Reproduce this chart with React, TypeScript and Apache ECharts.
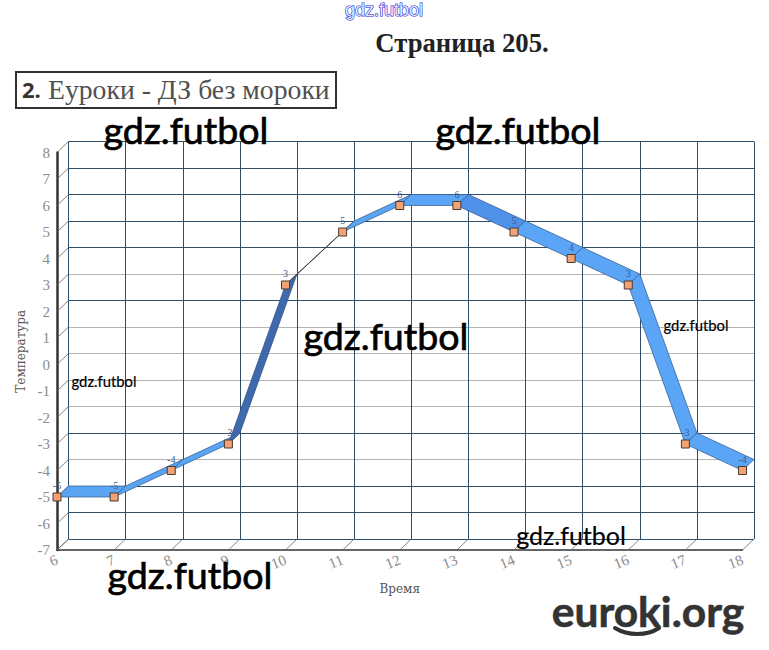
import React, { useEffect, useRef } from "react";
import * as echarts from "echarts";

const hours = [6, 7, 8, 9, 10, 11, 12, 13, 14, 15, 16, 17, 18];
const temperature = [-5, -5, -4, -3, 3, 5, 6, 6, 5, 4, 3, -3, -4];
const yTicks = [-7, -6, -5, -4, -3, -2, -1, 0, 1, 2, 3, 4, 5, 6, 7, 8];
const dark = "#2f4f68";
const gray = "#b4b4b4";
const wallLineColors = [dark, dark, dark, gray, dark, gray, gray, gray, gray, dark, gray, dark, dark, dark, dark, dark];
const ribbonColors = ["#5aa5f2", "#5aa5f2", "#5aa5f2", "#4069ad", "#444", "#5aa5f2", "#5aa5f5", "#4f90e8", "#5aa5f5", "#5aa5f5", "#5aa5f5", "#5aa5f5"];
const ribbonEdges = ["#3a6298", "#3a6298", "#3a6298", "#34558c", "#3c3c3c", "#3a6298", "#3a6298", "#3a6298", "#3a6298", "#3a6298", "#3a6298", "#3a6298"];
const DEPTH_X = 11.5;
const DEPTH_Y = -11;
const bigMarks = [
  [186, 129],
  [518, 129],
  [386, 335],
  [190, 574],
];
const smallMarks = [
  [104, 381, 14.8],
  [696, 325, 14.8],
  [571, 535, 25],
];

const serif = "'Liberation Serif', serif";

function mark(x: number, y: number, size: number) {
  return {
    type: "text",
    z: 100,
    x,
    y,
    style: {
      text: "gdz.futbol",
      x: 0,
      y: 0,
      fill: "#000",
      stroke: "#000",
      lineWidth: size > 30 ? 0.7 : 0.2,
      fontFamily: "Lato",
      fontSize: size,
      textAlign: "center",
      textVerticalAlign: "middle",
    },
  };
}

export default function App() {
  const ref = useRef<HTMLDivElement>(null);
  useEffect(() => {
    const chart = echarts.init(ref.current!, null, { renderer: "svg" });
    const axisLabelColor = "#8c8c8c";
    chart.setOption({
      animation: false,
      backgroundColor: "#fff",
      grid: [
        { left: 57, right: 26.5, top: 152.5, height: 397.5 },
        { left: 68.5, right: 15, top: 141.5, height: 397.5 },
      ],
      xAxis: [
        {
          type: "value",
          gridIndex: 0,
          min: 6,
          max: 18,
          interval: 1,
          name: "Время",
          nameLocation: "middle",
          nameGap: 33,
          nameTextStyle: { fontFamily: "'DejaVu Serif'", fontSize: 12, color: "#555" },
          axisLine: { show: true, onZero: false, lineStyle: { color: "#333", width: 1.5 } },
          axisTick: { show: false },
          splitLine: { show: false },
          axisLabel: { color: axisLabelColor, fontFamily: serif, fontSize: 15, rotate: 22, margin: 9 },
        },
        {
          type: "value",
          gridIndex: 1,
          min: 6,
          max: 18,
          interval: 1,
          axisLine: { show: false },
          axisTick: { show: false },
          axisLabel: { show: false },
          splitLine: { show: true, lineStyle: { color: "#2f4f68", width: 1 } },
        },
      ],
      yAxis: [
        {
          type: "value",
          gridIndex: 0,
          min: -7,
          max: 8,
          interval: 1,
          name: "Температура",
          nameLocation: "middle",
          nameGap: 29,
          nameTextStyle: { fontFamily: "'DejaVu Serif'", fontSize: 12, color: "#555" },
          axisLine: { show: true, onZero: false, lineStyle: { color: "#333", width: 2.5 } },
          axisTick: { show: false },
          splitLine: { show: false },
          axisLabel: { color: axisLabelColor, fontFamily: serif, fontSize: 15, margin: 7 },
        },
        {
          type: "value",
          gridIndex: 1,
          min: -7,
          max: 8,
          interval: 1,
          axisLine: { show: false },
          axisTick: { show: false },
          axisLabel: { show: false },
          splitLine: { show: true, lineStyle: { color: wallLineColors, width: 1 } },
        },
      ],
      series: [
        {
          type: "custom",
          xAxisIndex: 0,
          yAxisIndex: 0,
          clip: false,
          z: 3,
          silent: true,
          data: [
            ...yTicks.map((v) => [6, v]),
            ...hours.map((h) => [h, -7]),
          ],
          renderItem: (_: any, api: any) => {
            const p = api.coord([api.value(0), api.value(1)]);
            return {
              type: "line",
              shape: { x1: p[0], y1: p[1], x2: p[0] + DEPTH_X, y2: p[1] + DEPTH_Y },
              style: { stroke: "#666", lineWidth: 0.8 },
            };
          },
        },
        {
          type: "custom",
          xAxisIndex: 0,
          yAxisIndex: 0,
          clip: false,
          z: 4,
          silent: true,
          data: hours.slice(0, -1).map((h, i) => [h, temperature[i], hours[i + 1], temperature[i + 1], i]),
          encode: { x: [0, 2], y: [1, 3] },
          renderItem: (_: any, api: any) => {
            const a = api.coord([api.value(0), api.value(1)]);
            const b = api.coord([api.value(2), api.value(3)]);
            const i = api.value(4);
            return {
              type: "polygon",
              shape: {
                points: [
                  a,
                  [a[0] + DEPTH_X, a[1] + DEPTH_Y],
                  [b[0] + DEPTH_X, b[1] + DEPTH_Y],
                  b,
                ],
              },
              style: { fill: ribbonColors[i], stroke: ribbonEdges[i], lineWidth: 0.8 },
            };
          },
        },
        {
          type: "line",
          xAxisIndex: 0,
          yAxisIndex: 0,
          z: 5,
          data: hours.map((h, i) => [h, temperature[i]]),
          symbol: "rect",
          symbolSize: 8,
          clip: false,
          lineStyle: { opacity: 0 },
          itemStyle: { color: "#f2a273", borderColor: "#4a3a30", borderWidth: 1 },
          label: {
            show: true,
            position: "top",
            distance: 2,
            formatter: (p: any) => String(p.value[1]),
            fontFamily: serif,
            fontSize: 10,
            color: "#3f5a8a",
          },
        },
      ],
      graphic: [
        {
          type: "text",
          z: 100,
          x: 384,
          y: 10,
          style: {
            text: "gdz.futbol",
            x: 0,
            y: 0,
            fill: "#e4e4ff",
            stroke: "#2020d0",
            lineWidth: 1.1,
            fontFamily: "'Liberation Sans'",
            fontSize: 18,
            textAlign: "center",
            textVerticalAlign: "middle",
          },
        },
        {
          type: "text",
          z: 100,
          x: 462,
          y: 43,
          style: {
            text: "Страница 205.",
            x: 0,
            y: 0,
            fill: "#222",
            fontFamily: serif,
            fontWeight: "bold",
            fontSize: 26.7,
            textAlign: "center",
            textVerticalAlign: "middle",
          },
        },
        {
          type: "rect",
          z: 100,
          shape: { x: 16, y: 72, width: 320, height: 36 },
          style: { fill: "#fff", stroke: "#333", lineWidth: 2 },
        },
        {
          type: "text",
          z: 101,
          x: 22,
          y: 89,
          style: {
            text: "2.",
            x: 0,
            y: 0,
            fill: "#333",
            fontFamily: "'Noto Sans'",
            fontWeight: "bold",
            fontSize: 22,
            textVerticalAlign: "middle",
          },
        },
        {
          type: "text",
          z: 101,
          x: 48,
          y: 89,
          style: {
            text: "Еуроки - ДЗ без мороки",
            x: 0,
            y: 0,
            fill: "#505050",
            fontFamily: serif,
            fontSize: 27.7,
            textVerticalAlign: "middle",
          },
        },
        ...bigMarks.map(([x, y]) => mark(x, y, 37.6)),
        ...smallMarks.map(([x, y, s]) => mark(x, y, s)),
        {
          type: "text",
          z: 100,
          x: 648,
          y: 610,
          style: {
            text: "euroki.org",
            x: 0,
            y: 0,
            fill: "#333",
            stroke: "#333",
            lineWidth: 0.6,
            fontFamily: "Lato",
            fontWeight: "bold",
            fontSize: 42.5,
            textAlign: "center",
            textVerticalAlign: "middle",
          },
        },
        {
          type: "bezierCurve",
          z: 100,
          shape: { x1: 615, y1: 628, cpx1: 628, cpy1: 636, cpx2: 647, cpy2: 636, x2: 659, y2: 628 },
          style: { stroke: "#333", fill: "none", lineWidth: 4, lineCap: "round" },
        },
      ],
    });
    return () => chart.dispose();
  }, []);
  return <div ref={ref} style={{ position: "absolute", left: 0, top: 0, width: 769, height: 650 }} />;
}
